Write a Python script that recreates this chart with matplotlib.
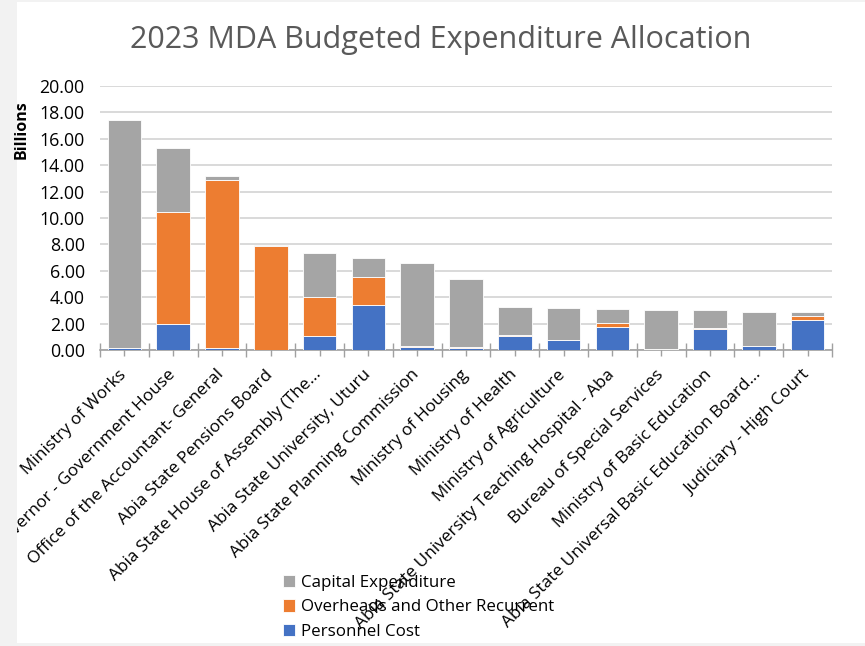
import matplotlib
matplotlib.use("Agg")
import matplotlib.pyplot as plt
from matplotlib.patches import Rectangle
from matplotlib.transforms import ScaledTranslation, Bbox, TransformedBbox
import numpy as np

categories = [
    "Ministry of Works",
    "Governor - Government House",
    "Office of the Accountant- General",
    "Abia State Pensions Board",
    "Abia State House of Assembly (The...",
    "Abia State University, Uturu",
    "Abia State Planning Commission",
    "Ministry of Housing",
    "Ministry of Health",
    "Ministry of Agriculture",
    "Abia State University Teaching Hospital - Aba",
    "Bureau of Special Services",
    "Ministry of Basic Education",
    "Abia State Universal Basic Education Board...",
    "Judiciary - High Court",
]
personnel = [0.18, 1.99, 0.18, 0.00, 1.03, 3.40, 0.23, 0.18, 1.08, 0.78, 1.74, 0.00, 1.61, 0.33, 2.30]
overheads = [0.00, 8.48, 12.73, 7.89, 3.01, 2.10, 0.07, 0.01, 0.02, 0.00, 0.28, 0.05, 0.03, 0.01, 0.30]
capital = [17.22, 4.86, 0.26, 0.03, 3.32, 1.44, 6.28, 5.16, 2.15, 2.37, 1.11, 3.00, 1.36, 2.56, 0.30]
yticks = [0, 2, 4, 6, 8, 10, 12, 14, 16, 18, 20]

FONT = ["Open Sans", "DejaVu Sans"]
plt.rcParams["font.family"] = FONT

fig = plt.figure(figsize=(8.65, 6.46), dpi=100, facecolor="#f2f2f2")
bg = Rectangle((17 / 865, 3 / 646), 848 / 865, 641 / 646,
               transform=fig.transFigure, facecolor="white",
               edgecolor="none", zorder=-10)
fig.patches.append(bg)

ax = fig.add_axes([100 / 865, 1 - 350 / 646, 732 / 865, 264 / 646])
ax.set_facecolor("none")

x = np.arange(len(categories))
p = np.array(personnel)
o = np.array(overheads)
c = np.array(capital)
w = 0.69
ek = dict(edgecolor="white", linewidth=0.6, zorder=3)
ax.bar(x, p, w, color="#4472c4", label="Personnel Cost", **ek)
ax.bar(x, o, w, bottom=p, color="#ed7d31", label="Overheads and Other Recurrent", **ek)
ax.bar(x, c, w, bottom=p + o, color="#a5a5a5", label="Capital Expenditure", **ek)

ax.set_xlim(-0.5, len(categories) - 0.5)
ax.set_ylim(0, 20)
ax.set_yticks(yticks)
ax.set_yticklabels([f"{v:.2f}" for v in yticks], fontsize=12.8, color="black")
ax.yaxis.grid(True, color="#d0d0d0", linewidth=1.1, zorder=0)
ax.set_axisbelow(True)
ax.tick_params(axis="y", length=0, pad=11)

ax.set_xticks(np.arange(len(categories) + 1) - 0.5)
ax.set_xticklabels([])
ax.set_xticks(x, minor=True)
ax.set_xticklabels(categories, minor=True, rotation=45, ha="right",
                   rotation_mode="anchor", fontsize=12.4)
ax.tick_params(axis="x", which="major", direction="inout", length=10, color="#a0a0a0", width=1)
ax.tick_params(axis="x", which="minor", direction="inout", length=8, color="#a0a0a0", width=1, pad=8)

clip = TransformedBbox(Bbox([[17 / 865, 0], [1, 1]]), fig.transFigure)
shift = ScaledTranslation(-6 / 100, 0, fig.dpi_scale_trans)
for lab in ax.get_xticklabels(minor=True):
    lab.set_transform(lab.get_transform() + shift)
    lab.set_clip_box(clip)
    lab.set_clip_on(True)

for s in ["top", "right", "left"]:
    ax.spines[s].set_visible(False)
ax.spines["bottom"].set_color("#a0a0a0")
ax.spines["bottom"].set_linewidth(1.2)

fig.text(22 / 865, 1 - 130 / 646, "Billions", rotation=90, fontsize=11.5,
         fontweight="bold", ha="center", va="center")
fig.text(441 / 865, 1 - 40 / 646, "2023 MDA Budgeted Expenditure Allocation",
         fontsize=22, color="#595959", ha="center", va="center")

handles, labels = ax.get_legend_handles_labels()
leg = fig.legend(handles[::-1], labels[::-1], loc="upper left",
                 bbox_to_anchor=(276 / 865, 1 - 568 / 646), frameon=False,
                 fontsize=12.2, handlelength=0.75, handleheight=0.75,
                 handletextpad=0.3, labelspacing=0.5, borderaxespad=0)

fig.savefig("out.png", dpi=100, facecolor=fig.get_facecolor())
